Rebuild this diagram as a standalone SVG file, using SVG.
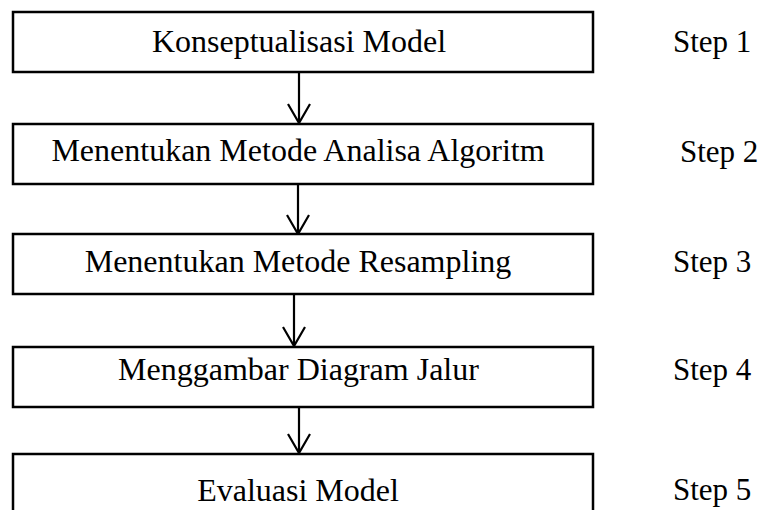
<svg xmlns="http://www.w3.org/2000/svg" width="765" height="510" viewBox="0 0 765 510">
<style>
.box{fill:#fff;stroke:#000;stroke-width:2.5}
.lbl{font-family:"Liberation Serif","Times New Roman",serif;font-size:32px;fill:#000;text-anchor:middle}
.step{font-family:"Liberation Serif","Times New Roman",serif;font-size:31px;fill:#000}
.conn{fill:none;stroke:#000;stroke-width:2.2}
</style>
<rect width="765" height="510" fill="#fff"/>
<g id="connectors">
<path class="conn" d="M299 72V123M288 104L299 123L310 104"/>
<path class="conn" d="M298 184V234M287 215L298 234L309 215"/>
<path class="conn" d="M294 294V346M283 327L294 346L305 327"/>
<path class="conn" d="M299 407V453M288 434L299 453L310 434"/>
</g>
<g id="node1"><rect class="box" x="13" y="12" width="580" height="60"/><text class="lbl" x="299" y="52">Konseptualisasi Model</text></g>
<g id="node2"><rect class="box" x="13" y="124" width="580" height="60"/><text class="lbl" x="298" y="161">Menentukan Metode Analisa Algoritm</text></g>
<g id="node3"><rect class="box" x="13" y="234" width="580" height="60"/><text class="lbl" x="298" y="272">Menentukan Metode Resampling</text></g>
<g id="node4"><rect class="box" x="13" y="347" width="580" height="60"/><text class="lbl" x="298.5" y="380">Menggambar Diagram Jalur</text></g>
<g id="node5"><rect class="box" x="13" y="454" width="580" height="70"/><text class="lbl" x="298" y="501">Evaluasi Model</text></g>
<g id="steps">
<text class="step" x="673" y="52">Step 1</text>
<text class="step" x="680" y="162">Step 2</text>
<text class="step" x="673" y="272">Step 3</text>
<text class="step" x="673" y="380">Step 4</text>
<text class="step" x="673" y="500">Step 5</text>
</g>
</svg>
